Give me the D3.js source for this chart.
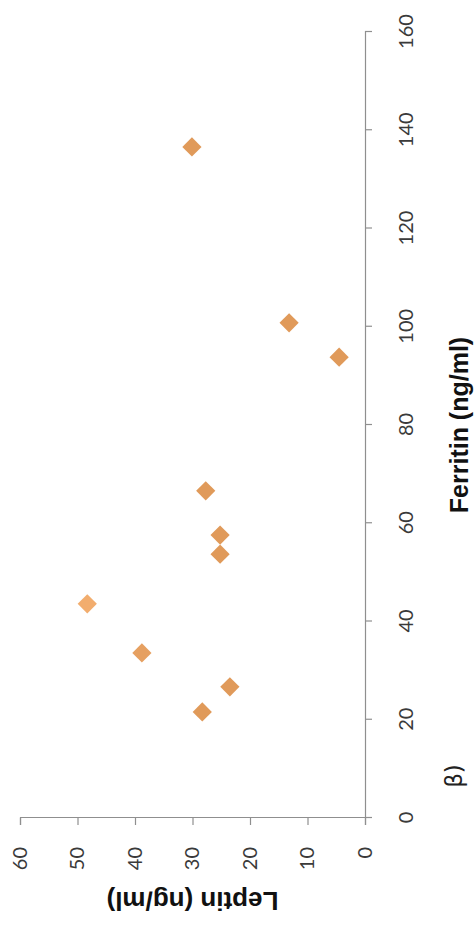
<!DOCTYPE html>
<html>
<head>
<meta charset="utf-8">
<script src="https://cdn.jsdelivr.net/npm/d3@7"></script>
<style>
  html, body { margin: 0; padding: 0; background: #ffffff; }
  svg { display: block; }
</style>
</head>
<body>
<svg id="chart" width="475" height="928"></svg>
<script>
// Ferritin vs. leptin, one point per subject
const ferritin = [21.6, 26.7, 33.6, 43.6, 53.7, 57.6, 66.6, 93.8, 100.8, 136.6];
const leptin   = [28.3, 23.5, 38.8, 48.3, 25.2, 25.2, 27.7, 4.5, 13.2, 30.1];

const ferritinTicks = [0, 20, 40, 60, 80, 100, 120, 140, 160];
const leptinTicks   = [0, 10, 20, 30, 40, 50, 60];

const xTitle = "Ferritin (ng/ml)";
const yTitle = "Leptin (ng/ml)";
const panelLabel = "β)";

const points = ferritin.map((f, i) => ({ f, l: leptin[i] }));

const svg = d3.select("#chart");
svg.append("rect").attr("width", 475).attr("height", 928).attr("fill", "#ffffff");

// plot area is laid out in its own frame, then turned a quarter turn
const W = 786, H = 345;
const g = svg.append("g").attr("transform", "translate(20,818) rotate(-90)");

const x = d3.scaleLinear().domain([0, 160]).range([0, W]);
const y = d3.scaleLinear().domain([0, 60]).range([H, 0]);

const axisColor = "#8f8f8f";
const tickFont = "Lato, 'Open Sans', sans-serif";

const xAxis = g.append("g")
  .attr("transform", `translate(0,${H})`)
  .call(d3.axisBottom(x).tickValues(ferritinTicks).tickSize(7).tickPadding(27).tickFormat(d3.format("d")));

const yAxis = g.append("g")
  .call(d3.axisLeft(y).tickValues(leptinTicks).tickSize(7).tickPadding(22).tickFormat(d3.format("d")));

[xAxis, yAxis].forEach(a => {
  a.select(".domain").attr("stroke", axisColor).attr("stroke-width", 1.2);
  a.selectAll(".tick line").attr("stroke", axisColor).attr("stroke-width", 1.2);
  a.selectAll(".tick text")
    .attr("fill", "#3a3a3a")
    .style("font-family", tickFont)
    .style("font-size", "20px");
});

// markers: squares turned 45 degrees
const diamond = d3.symbol().type(d3.symbolSquare).size(185);
const markerFills = ["#e09a5a", "#e09a5a", "#e6a061", "#f2ad6e", "#e09a5a",
                     "#e09a5a", "#e09a5a", "#e09a5a", "#e09a5a", "#e09a5a"];
g.append("g").selectAll("path")
  .data(points)
  .join("path")
  .attr("d", diamond)
  .attr("transform", d => `translate(${x(d.f)},${y(d.l)}) rotate(45)`)
  .attr("fill", (d, i) => markerFills[i]);

// axis titles
g.append("text")
  .attr("x", x(80))
  .attr("y", 448)
  .attr("text-anchor", "middle")
  .style("font-family", "'Liberation Sans', Arial, sans-serif")
  .style("font-weight", "bold")
  .style("font-size", "25px")
  .attr("fill", "#111111")
  .text(xTitle);

g.append("text")
  .attr("transform", `translate(-74,${H / 2}) rotate(-90)`)
  .attr("text-anchor", "middle")
  .style("font-family", "'Liberation Sans', Arial, sans-serif")
  .style("font-weight", "bold")
  .style("font-size", "26px")
  .attr("fill", "#111111")
  .text(yTitle);

// panel tag
g.append("text")
  .attr("x", 42)
  .attr("y", 442)
  .attr("text-anchor", "middle")
  .style("font-family", "'DejaVu Sans', sans-serif")
  .style("font-size", "23px")
  .attr("fill", "#222222")
  .text(panelLabel);
</script>
</body>
</html>
